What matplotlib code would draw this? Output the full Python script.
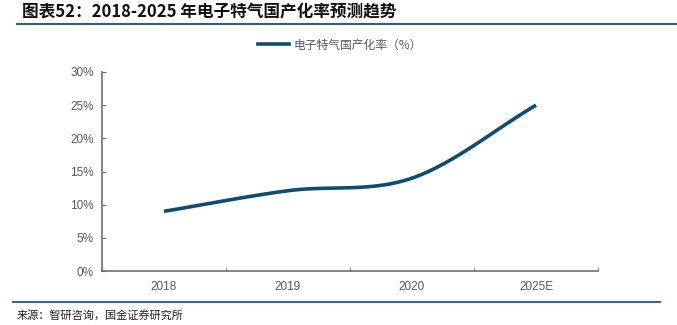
import numpy as np
import matplotlib
matplotlib.use("Agg")
import matplotlib.pyplot as plt
from matplotlib.lines import Line2D

plt.rcParams['font.family'] = ['Noto Sans CJK SC', 'DejaVu Sans']

categories = ["2018", "2019", "2020", "2025E"]
values = [9.0, 12.1, 14.0, 25.0]
yticks = [0, 5, 10, 15, 20, 25, 30]
title = "图表52：2018-2025 年电子特气国产化率预测趋势"
legend_label = "电子特气国产化率（%）"
source = "来源：智研咨询，国金证券研究所"

line_color = "#0e4d6e"
axis_color = "#6f6f6f"
text_color = "#595959"

def catmull_rom(x, y, n=40):
    x = np.asarray(x, float); y = np.asarray(y, float)
    px = np.concatenate([[2*x[0]-x[1]], x, [2*x[-1]-x[-2]]])
    py = np.concatenate([[2*y[0]-y[1]], y, [2*y[-1]-y[-2]]])
    xs, ys = [], []
    for i in range(1, len(px)-2):
        t = np.linspace(0, 1, n)
        for arr, out in ((px, xs), (py, ys)):
            p0, p1, p2, p3 = arr[i-1], arr[i], arr[i+1], arr[i+2]
            out.append(0.5*((2*p1) + (-p0+p2)*t + (2*p0-5*p1+4*p2-p3)*t**2 + (-p0+3*p1-3*p2+p3)*t**3))
    return np.concatenate(xs), np.concatenate(ys)

fig = plt.figure(figsize=(6.77, 3.25), dpi=100)
ax = fig.add_axes([102/677, 1-271/325, (598-102)/677, (271-72)/325])

x = np.arange(len(categories))
sx, sy = catmull_rom(x, values)
ax.plot(sx, sy, color=line_color, lw=2.6, solid_capstyle='butt')

ax.set_xlim(-0.5, len(categories)-0.5)
ax.set_ylim(0, 30)
ax.set_yticks(yticks)
ax.set_yticklabels([f"{v}%" for v in yticks], fontsize=8.5, color=text_color, family=['Liberation Sans', 'DejaVu Sans'])
ax.set_xticks(x)
ax.set_xticklabels(categories, fontsize=8.5, color=text_color, family=['Liberation Sans', 'DejaVu Sans'])
ax.set_xticks(np.arange(len(categories)+1)-0.5, minor=True)
ax.tick_params(axis='x', which='major', length=0, pad=7)
ax.tick_params(axis='x', which='minor', length=3, direction='in', color=axis_color)
ax.tick_params(axis='y', length=3, direction='in', color=axis_color, pad=6)
for s in ['top', 'right']:
    ax.spines[s].set_visible(False)
for s in ['left', 'bottom']:
    ax.spines[s].set_color(axis_color)
    ax.spines[s].set_linewidth(1.2)

# legend
leg = fig.legend([Line2D([], [], color=line_color, lw=2.6)], [legend_label],
                 loc='center', bbox_to_anchor=(340/677, 1-45/325), frameon=False,
                 fontsize=8.5, handlelength=2.6, handletextpad=0.4)
for t in leg.get_texts():
    t.set_color(text_color)

# title and rules
fig.text(22/677, 1-12/325, title, fontsize=12, fontweight='bold', va='center', ha='left',
         color='#111111', style='italic')
fig.add_artist(Line2D([17/677, 1.0], [1-24/325, 1-24/325], color='#2d5f83', lw=1.5))
fig.add_artist(Line2D([13/677, 660/677], [1-302/325, 1-302/325], color='#2d6d96', lw=1.5))
fig.text(17/677, 1-315/325, source, fontsize=8, va='center', ha='left', color='#222222')

fig.savefig("out.png", dpi=100)
